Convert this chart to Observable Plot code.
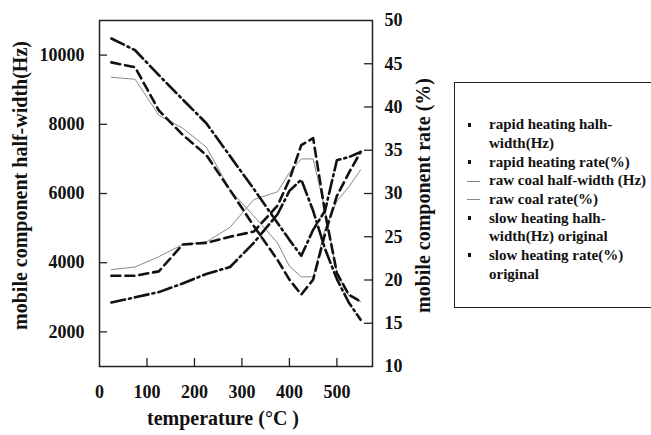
<!DOCTYPE html>
<html>
<head>
<meta charset="utf-8">
<script src="https://cdn.jsdelivr.net/npm/d3@7"></script>
<script src="https://cdn.jsdelivr.net/npm/@observablehq/plot@0.6"></script>
<style>
  html, body { margin: 0; padding: 0; background: #fff; }
  #wrap { position: relative; width: 651px; height: 435px; overflow: hidden; font-family: "Liberation Serif", "Times New Roman", serif; font-weight: bold; }
  #wrap svg text { font-family: "Liberation Serif", "Times New Roman", serif; font-weight: bold; }
  #legend { position: absolute; left: 454px; top: 82px; width: 230px; height: 226px; border: 1.5px solid #222; box-sizing: border-box; }
  #legend .row { position: absolute; left: 34px; font-size: 15px; line-height: 18.7px; color: #111; white-space: pre; }
  #legend .sq { position: absolute; left: 13px; width: 3px; height: 4px; background: #111; }
  #legend .ln { position: absolute; left: 12px; width: 13px; height: 0; border-top: 1px solid #888; }
</style>
</head>
<body>
<div id="wrap"></div>
<script>
// ---- data ----
const temps = [25, 75, 125, 175, 225, 275, 325, 375, 400, 425, 450, 475, 500, 525, 550];
const rapidWidth = [9790, 9650, 8400, 7700, 7110, 6100, 5060, 4080, 3510, 3080, 3510, 4830, 5930, 6590, 7200];
const rapidRate  = [20.5, 20.5, 21.0, 24.1, 24.3, 25.0, 25.6, 28.6, 31.6, 35.6, 36.4, 27.8, 20.8, 18.3, 17.5];
const rawWidth   = [9360, 9300, 8260, 7890, 7340, 6100, 5350, 4570, 3900, 3590, 3590, 4980, 5780, 6190, 6680];
const rawRate    = [21.2, 21.5, 22.7, 24.1, 24.4, 26.1, 29.3, 30.2, 32.4, 34.0, 34.0, 28.1, 20.8, 18.2, 17.5];
const slowWidth  = [10480, 10140, 9420, 8720, 8030, 7080, 6130, 5150, 4660, 4200, 4950, 5500, 6960, 7050, 7200];
const slowRate   = [17.4, 18.0, 18.6, 19.6, 20.7, 21.5, 24.3, 27.6, 30.3, 31.6, 28.0, 23.6, 20.1, 17.4, 15.4];

const xTickValues = [100, 200, 300, 400, 500];
const xLabelValues = [0, 100, 200, 300, 400, 500];
const leftTicks = [2000, 4000, 6000, 8000, 10000];
const rightLabels = [10, 15, 20, 25, 30, 35, 40, 45, 50];
const rightTicks = [15, 20, 25, 30, 35, 40, 45];

const xTitle = "temperature (\u00B0C )";
const yLeftTitle = "mobile component half-width(Hz)";
const yRightTitle = "mobile component rate (%)";

const legendLabels = [
  "rapid heating halh-\nwidth(Hz)",
  "rapid heating rate(%)",
  "raw coal half-width (Hz)",
  "raw coal rate(%)",
  "slow heating halh-\nwidth(Hz) original",
  "slow heating rate(%)\noriginal"
];
const legendMarkers = ["square", "square", "line", "line", "square", "square"];

// right axis (rate %) mapped onto left scale (Hz): 10..50 % <-> 1000..11000 Hz
const leftDomain = [1000, 11000];
const rightDomain = [10, 50];
const toLeft = r => leftDomain[0] + (r - rightDomain[0]) * (leftDomain[1] - leftDomain[0]) / (rightDomain[1] - rightDomain[0]);

const rows = (vals, f) => temps.map((t, i) => ({t, v: f(vals[i])}));
const id = v => v;

const dashed = "9,5";
const dashDot = "14,4,2,4";

const chart = Plot.plot({
  width: 651,
  height: 435,
  marginLeft: 99,
  marginRight: 279,
  marginTop: 20,
  marginBottom: 69,
  x: {domain: [0, 575], label: null},
  y: {domain: leftDomain, label: null},
  style: {background: "#fff", color: "#111"},
  marks: [
    Plot.frame({stroke: "#222", strokeWidth: 1.5}),
    Plot.axisX(xTickValues, {tickSize: -8, fill: null, label: null, stroke: "#222", strokeWidth: 1.3}),
    Plot.axisX(xLabelValues, {tickSize: 0, tickPadding: 19, fontSize: 18, fontWeight: "bold", label: null, tickFormat: d => String(d)}),
    Plot.axisY(leftTicks, {tickSize: -8, fill: null, label: null, stroke: "#222", strokeWidth: 1.3}),
    Plot.axisY(leftTicks, {tickSize: 0, tickPadding: 15, fontSize: 18, fontWeight: "bold", label: null, tickFormat: d => String(d)}),
    Plot.axisY(rightTicks.map(toLeft), {anchor: "right", tickSize: -9, fill: null, label: null, stroke: "#222", strokeWidth: 1.3}),
    Plot.axisY(rightLabels.map(toLeft), {anchor: "right", tickSize: 0, tickPadding: 12, fontSize: 18, fontWeight: "bold", label: null,
      tickFormat: (d, i) => String(rightLabels[i])}),
    // series
    Plot.line(rows(rawWidth, id), {x: "t", y: "v", stroke: "#8a8a8a", strokeWidth: 1}),
    Plot.line(rows(rawRate, toLeft), {x: "t", y: "v", stroke: "#8a8a8a", strokeWidth: 1}),
    Plot.line(rows(rapidWidth, id), {x: "t", y: "v", stroke: "#111", strokeWidth: 2.6, strokeDasharray: dashed}),
    Plot.line(rows(rapidRate, toLeft), {x: "t", y: "v", stroke: "#111", strokeWidth: 2.6, strokeDasharray: dashed}),
    Plot.line(rows(slowWidth, id), {x: "t", y: "v", stroke: "#111", strokeWidth: 2.6, strokeDasharray: dashDot}),
    Plot.line(rows(slowRate, toLeft), {x: "t", y: "v", stroke: "#111", strokeWidth: 2.6, strokeDasharray: dashDot}),
    // axis titles
    Plot.text([xTitle], {frameAnchor: "bottom", textAnchor: "middle", lineAnchor: "middle", dx: -13, dy: 52, fontSize: 20, fontWeight: "bold"}),
    Plot.text([yLeftTitle], {frameAnchor: "left", textAnchor: "middle", lineAnchor: "middle", rotate: -90, dx: -79, dy: -8, fontSize: 20, fontWeight: "bold"}),
    Plot.text([yRightTitle], {frameAnchor: "right", textAnchor: "middle", lineAnchor: "middle", rotate: -90, dx: 51, dy: 2, fontSize: 20, fontWeight: "bold"})
  ]
});

const wrap = document.getElementById("wrap");
wrap.appendChild(chart);

// legend
const legend = document.createElement("div");
legend.id = "legend";
let lineIdx = 0;
const firstCenter = 125 - 82; // relative line center of first legend line
const lh = 18.7;
legendLabels.forEach((lab, i) => {
  const nLines = lab.split("\n").length;
  const center = firstCenter + lineIdx * lh;
  const row = document.createElement("div");
  row.className = "row";
  row.style.top = (center - lh / 2 - 1.5) + "px";
  row.textContent = lab;
  legend.appendChild(row);
  const m = document.createElement("div");
  if (legendMarkers[i] === "square") {
    m.className = "sq";
    m.style.top = (center - 2 - 1.5) + "px";
  } else {
    m.className = "ln";
    m.style.top = (center - 1.5) + "px";
  }
  legend.appendChild(m);
  lineIdx += nLines;
});
wrap.appendChild(legend);
</script>
</body>
</html>
